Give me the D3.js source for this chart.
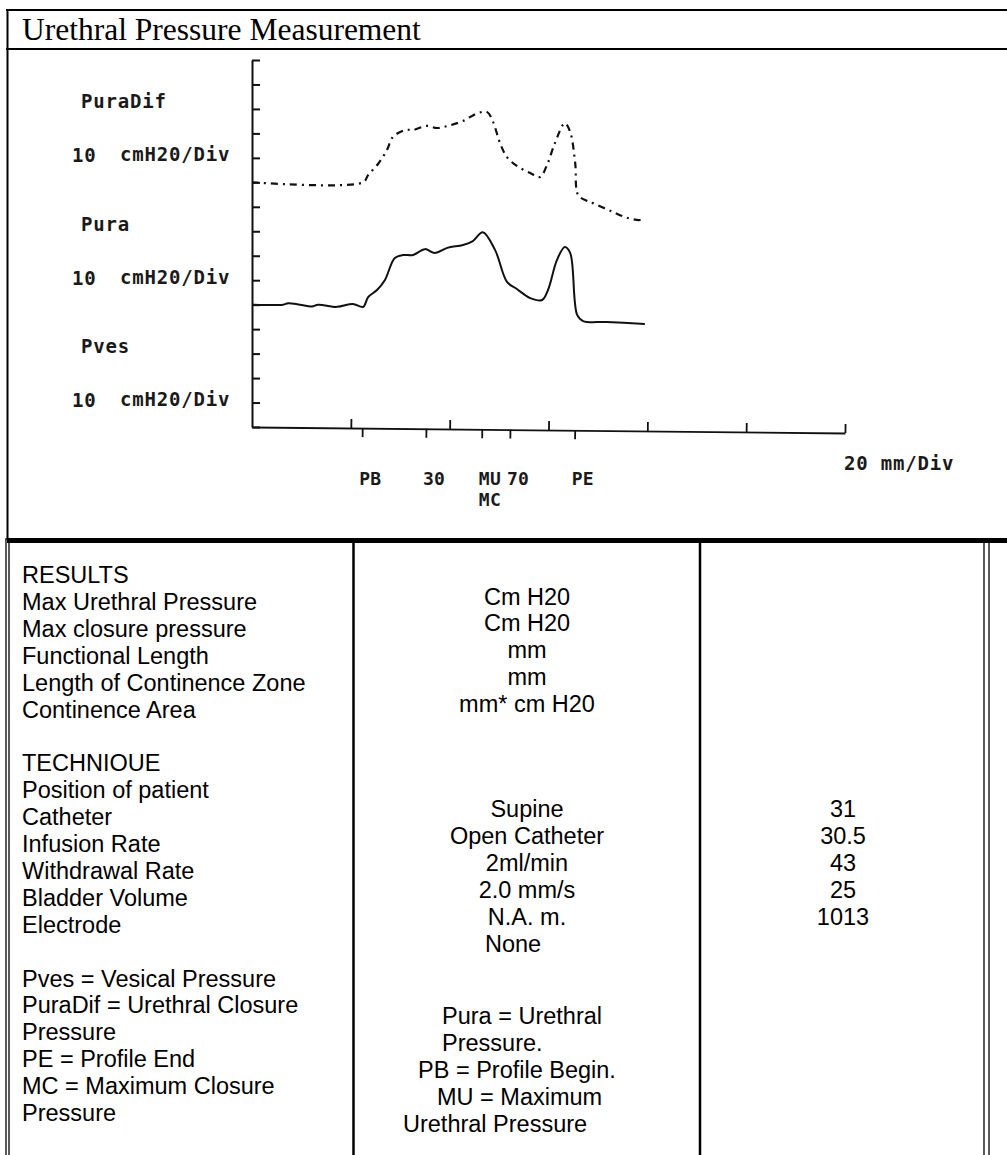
<!DOCTYPE html>
<html><head><meta charset="utf-8">
<script src="https://cdn.jsdelivr.net/npm/d3@7"></script>
<style>
html,body{margin:0;padding:0;background:#fff;}
svg{display:block;}
</style></head><body>
<script>
// ---------- chart data ----------
const title = "Urethral Pressure Measurement";
const channels = ["PuraDif", "Pura", "Pves"];
const channelBase = [100, 50, 0];          // cmH2O offset of each trace on the grid
const channelScale = ["10", "cmH20/Div"];
const yTickValues = d3.range(0, 151, 10);  // 10 cmH2O per division, 15 divisions
const xDivTicks = d3.range(0, 121, 20);    // 20 mm per division
const xScaleLabel = "20 mm/Div";
const markerPos = [22.3, 35.2, 46.5, 52.2, 65.3];   // mm along the profile
const markerLabels = ["PB", "30", "MU", "70", "PE"];
const markerSubLabels = ["", "", "MC", "", ""];

// urethral closure pressure trace (mm, cmH2O above its baseline)
const puraDifPos = [0, 22.5, 23.5, 25.5, 27.3, 28.5, 31.0, 32.6, 35.4, 37.4, 39.7, 42.7, 45.7, 47.6, 48.8, 50.2, 51.6, 53.6, 56.3, 58.3, 59.7, 61.3, 63.3, 64.4, 65.4, 66.0, 67.8, 69.0, 73.0, 76.1, 78.5, 79.5];
const puraDifVal = [0, 0, 3.0, 7.5, 13.2, 18.5, 21.4, 21.4, 23.1, 22.2, 23.1, 25.1, 28.3, 28.7, 24.6, 16.0, 10.3, 6.7, 3.8, 2.2, 7.1, 16.0, 24.2, 20.5, 7.9, -5.2, -7.6, -8.5, -12.1, -14.6, -15.4, -14.6];

// urethral pressure trace
const puraPos = [0, 6.3, 7.3, 9.7, 12.1, 13.4, 17.2, 20.4, 22.5, 23.5, 25.3, 26.9, 28.9, 30.6, 32.6, 35.0, 37.0, 39.5, 42.7, 44.7, 46.7, 49.2, 51.6, 53.6, 56.3, 58.7, 59.9, 61.7, 63.3, 64.4, 65.8, 67.0, 71.8, 79.5];
const puraVal = [0, 0, 0.6, 0, -0.7, 0, -0.9, 0.3, -0.9, 3.1, 6.0, 10.1, 19.1, 20.3, 20.3, 22.7, 21.1, 23.2, 24.4, 26.0, 29.6, 22.3, 9.3, 6.4, 2.7, 1.9, 6.0, 18.2, 23.6, 21.1, -4.2, -6.7, -7.1, -7.9];

// ---------- table text ----------
const resultsHeading = "RESULTS";
const resultsLabels = ["Max Urethral Pressure", "Max closure pressure", "Functional Length", "Length of Continence Zone", "Continence Area"];
const resultsUnits = ["Cm H20", "Cm H20", "mm", "mm", "mm* cm H20"];
const techniqueHeading = "TECHNIOUE";
const techniqueLabels = ["Position of patient", "Catheter", "Infusion Rate", "Withdrawal Rate", "Bladder Volume", "Electrode"];
const techniqueSettings = ["Supine", "Open Catheter", "2ml/min", "2.0 mm/s", "N.A. m.", "None"];
const resultValues = ["31", "30.5", "43", "25", "1013"];
const abbrevLeft = ["Pves = Vesical Pressure", "PuraDif = Urethral Closure", "Pressure", "PE = Profile End", "MC = Maximum Closure", "Pressure"];
const abbrevMid = ["Pura = Urethral", "Pressure.", "PB = Profile Begin.", "MU = Maximum", "Urethral Pressure"];

// ---------- page ----------
const W = 1007, H = 1155;
const svg = d3.select("body").append("svg").attr("width", W).attr("height", H);
const ink = "#111";
const dotFont = "'DejaVu Sans Mono', monospace";

// outer frame of the chart box
const frame = svg.append("g").attr("stroke", "#000").attr("fill", "none");
frame.append("line").attr("x1", 6).attr("x2", W).attr("y1", 10).attr("y2", 10).attr("stroke-width", 2);
frame.append("line").attr("x1", 6).attr("x2", W).attr("y1", 49).attr("y2", 49).attr("stroke-width", 2);
frame.append("line").attr("x1", 7.5).attr("x2", 7.5).attr("y1", 9).attr("y2", 540).attr("stroke-width", 2);
frame.append("line").attr("x1", 7).attr("x2", W).attr("y1", 540.5).attr("y2", 540.5).attr("stroke-width", 5);

svg.append("text").attr("x", 22).attr("y", 40)
  .attr("font-family", "'Liberation Serif', 'Times New Roman', serif")
  .attr("font-size", 31.5).attr("fill", "#000").text(title);

// ---------- scales ----------
const x = d3.scaleLinear().domain([0, 120]).range([252, 845]);
const y = d3.scaleLinear().domain([0, 150]).range([427, 60]);

const plot = svg.append("g");

// vertical axis with ticks pointing right
const yAxis = d3.axisRight(y).tickValues(yTickValues).tickSize(8).tickSizeOuter(0).tickFormat("");
const gy = plot.append("g").attr("transform", `translate(${x(0)},0)`).call(yAxis);
gy.selectAll("path,line").attr("stroke", ink).attr("stroke-width", 2);

// horizontal axis, drawn with a very slight slope as on the recorder paper
const gx = plot.append("g").attr("transform", `translate(0,${y(0)}) rotate(0.58 ${x(0)} 0)`);
const xTop = d3.axisTop(x).tickValues(xDivTicks.slice(1)).tickSize(9).tickSizeOuter(0).tickFormat("");
const xBot = d3.axisBottom(x).tickValues(markerPos).tickSize(9).tickSizeOuter(0).tickFormat("");
gx.append("g").call(xTop);
gx.append("g").call(xBot).select(".domain").remove();
gx.selectAll("path,line").attr("stroke", ink).attr("stroke-width", 1.8);

const labelStyle = (sel, size, spacing) => sel
  .attr("font-family", dotFont).attr("font-weight", "bold")
  .attr("font-size", size).attr("letter-spacing", spacing).attr("fill", "#1a1a1a");

// channel labels
const chanG = plot.append("g");
channels.forEach((name, i) => {
  const yb = y(channelBase[i]);
  chanG.append("text").attr("x", 81).attr("y", yb - 74).text(name);
  chanG.append("text").attr("x", 72).attr("y", yb - 20).text(channelScale[0]);
  chanG.append("text").attr("x", 120).attr("y", yb - 21).text(channelScale[1]);
});
chanG.append("text").attr("x", 844).attr("y", 470).text(xScaleLabel);
labelStyle(chanG.selectAll("text"), 19, 0.8);

// marker labels under the profile axis
const markG = plot.append("g");
markerLabels.forEach((lab, i) => {
  markG.append("text").attr("x", x(markerPos[i]) - 3).attr("y", 485).text(lab);
  if (markerSubLabels[i]) markG.append("text").attr("x", x(markerPos[i]) - 3).attr("y", 506).text(markerSubLabels[i]);
});
labelStyle(markG.selectAll("text"), 18, 0.3);

// traces
const line = base => d3.line()
  .x(d => x(d[0]))
  .y(d => y(base + d[1]))
  .curve(d3.curveCatmullRom.alpha(0.5));

plot.append("path")
  .datum(d3.zip(puraDifPos, puraDifVal))
  .attr("d", line(channelBase[0]))
  .attr("fill", "none").attr("stroke", ink).attr("stroke-width", 2.2)
  .attr("stroke-dasharray", "7,5,2,5");

plot.append("path")
  .datum(d3.zip(puraPos, puraVal))
  .attr("d", line(channelBase[1]))
  .attr("fill", "none").attr("stroke", ink).attr("stroke-width", 2);

// ---------- results table ----------
const tbl = svg.append("g").attr("stroke", "#000").attr("fill", "none");
[6, 9].forEach(xx => tbl.append("line").attr("x1", xx).attr("x2", xx).attr("y1", 538).attr("y2", H).attr("stroke-width", 1.3));
[984, 989].forEach(xx => tbl.append("line").attr("x1", xx).attr("x2", xx).attr("y1", 543).attr("y2", H).attr("stroke-width", 1.3));
[353.5, 700].forEach(xx => tbl.append("line").attr("x1", xx).attr("x2", xx).attr("y1", 543).attr("y2", H).attr("stroke-width", 2.5));

const tx = svg.append("g").attr("font-family", "'Liberation Sans', Arial, sans-serif")
  .attr("font-size", 23.5).attr("fill", "#000");
const row0 = 583, step = 26.9;
const rowY = r => row0 + r * step;
const put = (txt, xx, r, anchor) => tx.append("text").attr("x", xx).attr("y", rowY(r))
  .attr("text-anchor", anchor || "start").text(txt);

put(resultsHeading, 22, 0);
resultsLabels.forEach((t, i) => put(t, 22, 1 + i));
put(techniqueHeading, 22, 7);
techniqueLabels.forEach((t, i) => put(t, 22, 8 + i));
abbrevLeft.forEach((t, i) => put(t, 22, 15 + i));

resultsUnits.forEach((t, i) => put(t, 527, 0.8 + i, "middle"));
techniqueSettings.forEach((t, i) => put(t, i === 5 ? 513 : 527, 8.7 + i, "middle"));
const midIndent = [442, 442, 418, 437, 403];
abbrevMid.forEach((t, i) => put(t, midIndent[i], 16.4 + i));

resultValues.forEach((t, i) => put(t, 843, 8.7 + i, "middle"));
</script>
</body></html>
